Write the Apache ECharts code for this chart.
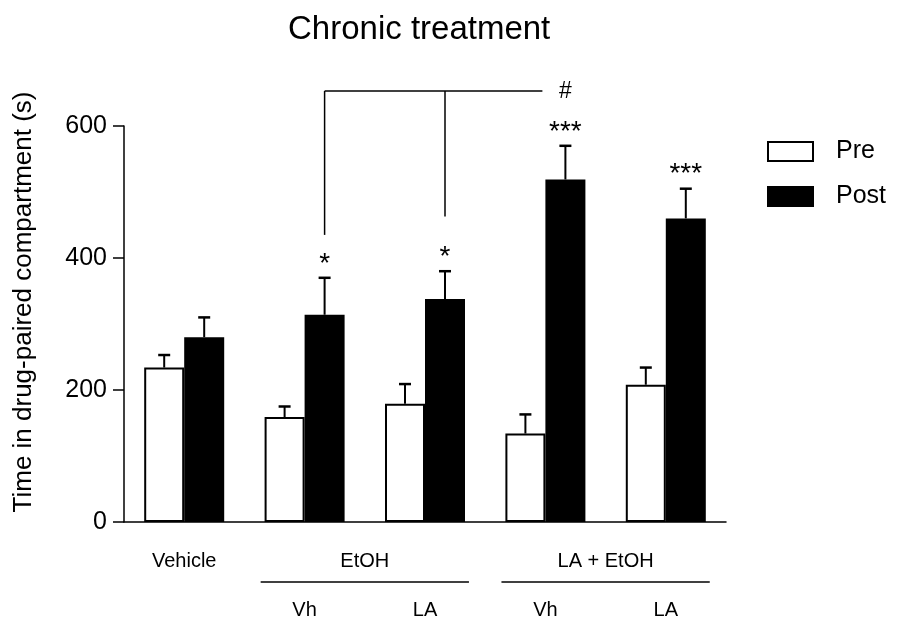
<!DOCTYPE html>
<html>
<head>
<meta charset="utf-8">
<script src="https://cdn.jsdelivr.net/npm/echarts@6/dist/echarts.min.js"></script>
<style>
  * { margin: 0; padding: 0; }
  html, body { width: 899px; height: 623px; background: #fff; overflow: hidden; }
  #chart { width: 899px; height: 623px; }
</style>
</head>
<body>
<div id="chart"></div>
<script>
// values
var categories = ['Vehicle', 'EtOH Vh', 'EtOH LA', 'LA + EtOH Vh', 'LA + EtOH LA'];
var subLabels = ['', 'Vh', 'LA', 'Vh', 'LA'];
var groupNames = ['Vehicle', 'EtOH', 'LA + EtOH'];
var groupStart = [0, 1, 3];
var groupEnd = [0, 2, 4];
var preMean = [234, 159, 179, 134, 208];
var preSem = [19, 16, 30, 29, 26];
var postMean = [280, 314, 338, 519, 460];
var postSem = [30, 56, 42, 51, 45];
var stars = ['', '*', '*', '***', '***'];
var yTicks = [0, 200, 400, 600];
// bracket: EtOH Vh / EtOH LA vs LA + EtOH Vh
var bracketFrom = [1, 2];
var bracketDrop = [435, 463];
var bracketTop = 653;
var hashIndex = 3;

var FONT = "'Liberation Sans', Arial, sans-serif";
var BAR_W = 40;
var black = '#000';

var chart = echarts.init(document.getElementById('chart'));

function errorSeries(name, mean, sem, side) {
  return {
    name: name,
    type: 'custom',
    silent: true,
    z: 5,
    data: mean.map(function (m, i) { return [i, m, m + sem[i]]; }),
    encode: { x: 0, y: [1, 2] },
    renderItem: function (params, api) {
      var base = api.coord([api.value(0), api.value(1)]);
      var top = api.coord([api.value(0), api.value(2)]);
      var x = base[0] + side * BAR_W / 2;
      var cap = 6;
      return {
        type: 'group',
        children: [
          { type: 'line', shape: { x1: x, y1: base[1], x2: x, y2: top[1] }, style: { stroke: black, lineWidth: 2 } },
          { type: 'line', shape: { x1: x - cap, y1: top[1], x2: x + cap, y2: top[1] }, style: { stroke: black, lineWidth: 2.5 } }
        ]
      };
    }
  };
}

function txt(text, x, y, size) {
  return {
    type: 'text', x: x, y: y,
    style: { text: text, fill: black, fontSize: size, fontFamily: FONT, align: 'center', verticalAlign: 'middle' }
  };
}

var annotations = {
  type: 'custom',
  silent: true,
  z: 6,
  data: [[0, 0]],
  renderItem: function (params, api) {
    var kids = [];
    var axisY = api.coord([0, 0])[1];
    var bw = api.size([1, 0])[0];
    // group labels under the axis
    groupNames.forEach(function (g, k) {
      var x = (api.coord([groupStart[k], 0])[0] + api.coord([groupEnd[k], 0])[0]) / 2;
      kids.push(txt(g, x, axisY + 39, 20));
      if (groupStart[k] !== groupEnd[k]) {
        var half = bw * 0.865;
        kids.push({ type: 'line', shape: { x1: x - half, y1: axisY + 60, x2: x + half, y2: axisY + 60 }, style: { stroke: black, lineWidth: 1.5 } });
      }
    });
    subLabels.forEach(function (s, i) {
      if (s) kids.push(txt(s, api.coord([i, 0])[0], axisY + 88, 20));
    });
    // significance stars
    stars.forEach(function (s, i) {
      if (!s) return;
      var p = api.coord([i, postMean[i] + postSem[i]]);
      kids.push(txt(s, p[0] + BAR_W / 2, p[1] - 14, 28));
    });
    // bracket and #
    var topY = api.coord([0, bracketTop])[1];
    var hashX = api.coord([hashIndex, 0])[0] + BAR_W / 2;
    var x0 = api.coord([bracketFrom[0], 0])[0] + BAR_W / 2;
    kids.push({ type: 'line', shape: { x1: x0, y1: topY, x2: hashX - 23, y2: topY }, style: { stroke: black, lineWidth: 1.5 } });
    bracketFrom.forEach(function (c, k) {
      var x = api.coord([c, 0])[0] + BAR_W / 2;
      var y2 = api.coord([c, bracketDrop[k]])[1];
      kids.push({ type: 'line', shape: { x1: x, y1: topY, x2: x, y2: y2 }, style: { stroke: black, lineWidth: 1.5 } });
    });
    kids.push(txt('#', hashX, topY + 1, 23));
    return { type: 'group', children: kids };
  }
};

var axisLine = { color: black, width: 1.5 };

chart.setOption({
  animation: false,
  backgroundColor: '#fff',
  title: {
    text: 'Chronic treatment',
    left: 288, top: 13, padding: 0,
    textStyle: { fontFamily: FONT, fontSize: 33, fontWeight: 'normal', color: black }
  },
  legend: {
    orient: 'vertical',
    left: 767, top: 139, padding: 0,
    itemWidth: 45, itemHeight: 19, itemGap: 20,
    icon: 'rect',
    data: ['Pre', 'Post'],
    textStyle: { fontFamily: FONT, fontSize: 25, color: black, padding: [4, 0, 0, 18] }
  },
  grid: { left: 124, right: 173, top: 126, bottom: 101 },
  xAxis: {
    type: 'category',
    data: categories,
    axisLine: { lineStyle: axisLine },
    axisTick: { alignWithLabel: true, length: 10, lineStyle: axisLine },
    axisLabel: { show: false }
  },
  yAxis: {
    type: 'value',
    min: yTicks[0], max: yTicks[yTicks.length - 1], interval: yTicks[1] - yTicks[0],
    axisLine: { show: true, lineStyle: axisLine },
    axisTick: { show: true, length: 11, lineStyle: axisLine },
    axisLabel: { fontFamily: FONT, fontSize: 25, color: black, margin: 17 },
    splitLine: { show: false }
  },
  graphic: [{
    type: 'text', x: 24, y: 302, rotation: Math.PI / 2,
    style: { text: 'Time in drug-paired compartment (s)', fontFamily: FONT, fontSize: 26, fill: black, align: 'center', verticalAlign: 'middle' }
  }],
  series: [
    { name: 'Pre', type: 'bar', data: preMean, barWidth: BAR_W, barGap: '0%', itemStyle: { color: '#fff', borderColor: black, borderWidth: 2 } },
    { name: 'Post', type: 'bar', data: postMean, barWidth: BAR_W, barGap: '0%', itemStyle: { color: black, borderColor: black, borderWidth: 2 } },
    errorSeries('errPre', preMean, preSem, -1),
    errorSeries('errPost', postMean, postSem, 1),
    annotations
  ]
});
</script>
</body>
</html>
